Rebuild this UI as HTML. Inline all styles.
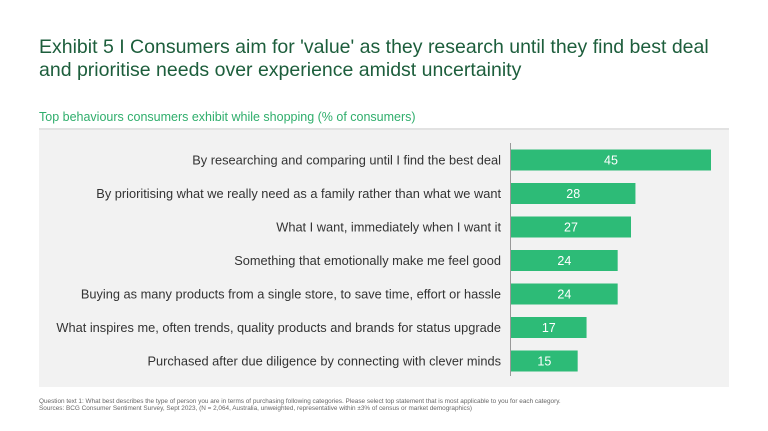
<!DOCTYPE html>
<html><head><meta charset="utf-8"><style>
body{margin:0;width:768px;height:431px;background:#fff;font-family:"Liberation Sans",sans-serif;position:relative;overflow:hidden}
.t{position:absolute;left:39px;top:36px;font-size:19.5px;line-height:23px;color:#1d5e3c}
.s{position:absolute;left:39px;top:110px;font-size:12.5px;color:#2fae6c}
.f{position:absolute;left:39px;top:398px;font-size:6.4px;line-height:7px;color:#666}
svg{position:absolute;left:0;top:0}
</style></head><body>
<div class="t">Exhibit 5 I Consumers aim for 'value' as they research until they find best deal<br>and prioritise needs over experience amidst uncertainity</div>
<div class="s">Top behaviours consumers exhibit while shopping (% of consumers)</div>
<svg width="768" height="431" id="c">
<rect x="39" y="128" width="690" height="2" fill="#e2e2e2"/>
<rect x="39" y="130" width="690" height="257" fill="#f2f2f2"/>
<line x1="510.5" y1="143" x2="510.5" y2="376" stroke="#999" stroke-width="1"/>
</svg>
<div class="f">Question text 1: What best describes the type of person you are in terms of purchasing following categories. Please select top statement that is most applicable to you for each category.<br>Sources: BCG Consumer Sentiment Survey, Sept 2023, (N = 2,064, Australia, unweighted, representative within ±3% of census or market demographics)</div>
<script>
const categories=["By researching and comparing until I find the best deal","By prioritising what we really need as a family rather than what we want","What I want, immediately when I want it","Something that emotionally make me feel good","Buying as many products from a single store, to save time, effort or hassle","What inspires me, often trends, quality products and brands for status upgrade","Purchased after due diligence by connecting with clever minds"];
const values=[45,28,27,24,24,17,15];
const svg=document.getElementById('c');
const NS='http://www.w3.org/2000/svg';
const x0=511,scale=200/45;
function xs(v){return v*scale;}
function yc(i){return 160+i*33.5;}
categories.forEach((c,i)=>{
  const r=document.createElementNS(NS,'rect');
  r.setAttribute('x',x0);r.setAttribute('y',yc(i)-10.5);
  r.setAttribute('width',xs(values[i]));r.setAttribute('height',21);
  r.setAttribute('fill','#2dbb77');
  
  
  svg.appendChild(r);
  const v=document.createElementNS(NS,'text');
  v.setAttribute('x',x0+xs(values[i])/2);v.setAttribute('y',yc(i)+4.5);
  v.setAttribute('text-anchor','middle');v.setAttribute('fill','#fff');
  v.setAttribute('font-size','12.5');v.textContent=values[i];
  
  
  svg.appendChild(v);
  const l=document.createElementNS(NS,'text');
  l.setAttribute('x',501);l.setAttribute('y',yc(i)+4.5);
  l.setAttribute('text-anchor','end');l.setAttribute('fill','#333');
  l.setAttribute('font-size','12.8');l.textContent=c;
  
  
  svg.appendChild(l);
});
</script>
</body></html>
